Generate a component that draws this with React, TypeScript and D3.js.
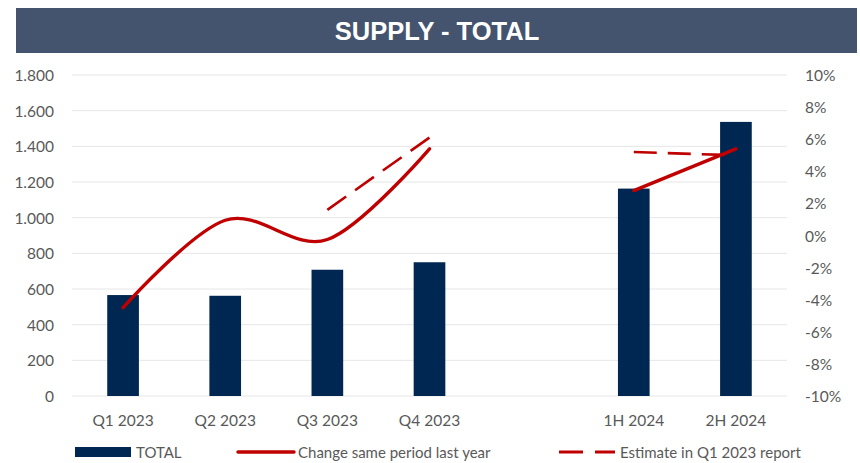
import React from "react";
import * as d3 from "d3";

const categories = ["Q1 2023", "Q2 2023", "Q3 2023", "Q4 2023", "", "1H 2024", "2H 2024"];
const totalValues: (number | null)[] = [566, 562, 708, 750, null, 1163, 1537];
const changeValues: (number | null)[] = [-4.5, 0.95, -0.25, 5.4, null, 2.8, 5.4];
const estimateValues: (number | null)[] = [null, null, 1.6, 6.1, null, 5.2, 5.0];
const leftTicks = [0, 200, 400, 600, 800, 1000, 1200, 1400, 1600, 1800];
const rightTicks = [-10, -8, -6, -4, -2, 0, 2, 4, 6, 8, 10];

const W = 860;
const H = 463;
const plot = { left: 72, right: 787, top: 75, bottom: 396 };
const barColor = "#002652";
const lineColor = "#C00000";
const textColor = "#595959";
const font = "Lato, 'Open Sans', sans-serif";

export default function App() {
  const x = d3
    .scaleBand<string>()
    .domain(categories.map((c, i) => String(i)))
    .range([plot.left, plot.right])
    .paddingInner(0.69)
    .paddingOuter(0.345);
  const xc = (i: number) => (x(String(i)) as number) + x.bandwidth() / 2;
  const yL = d3.scaleLinear().domain([0, 1800]).range([plot.bottom, plot.top]);
  const yR = d3.scaleLinear().domain([-10, 10]).range([plot.bottom, plot.top]);

  const fmtL = (v: number) => d3.format(",")(v).replace(/,/g, ".");

  const solidSegs = [
    [0, 1, 2, 3],
    [5, 6],
  ];
  const dashSegs = [
    [2, 3],
    [5, 6],
  ];
  const smooth = d3
    .line<number>()
    .x((i) => xc(i))
    .y((i) => yR(changeValues[i] as number))
    .curve(d3.curveCardinal.tension(0));
  const straight = d3
    .line<number>()
    .x((i) => xc(i))
    .y((i) => yR(estimateValues[i] as number));

  return (
    <svg width={W} height={H} style={{ position: "absolute", left: 0, top: 0 }}>
      <rect x={0} y={0} width={W} height={H} fill="#fff" />
      <rect x={16} y={8} width={841} height={45} fill="#44546F" />
      <text
        x={437}
        y={31}
        textAnchor="middle"
        dominantBaseline="central"
        fill="#fff"
        fontFamily="'Liberation Sans', Arial, sans-serif"
        fontWeight="bold"
        fontSize={25.5}
      >
        SUPPLY - TOTAL
      </text>

      {leftTicks.map((t) => (
        <line key={t} x1={plot.left} x2={plot.right} y1={yL(t)} y2={yL(t)} stroke="#E6E6E6" strokeWidth={1} />
      ))}
      {leftTicks.map((t) => (
        <text key={t} x={54} y={yL(t)} textAnchor="end" dominantBaseline="central" fill={textColor} fontFamily={font} fontSize={15.5}>
          {fmtL(t)}
        </text>
      ))}
      {rightTicks.map((t) => (
        <text key={t} x={805} y={yR(t)} textAnchor="start" dominantBaseline="central" fill={textColor} fontFamily={font} fontSize={15.5}>
          {t}%
        </text>
      ))}

      {totalValues.map((v, i) =>
        v == null ? null : (
          <rect key={i} x={x(String(i))} y={yL(v)} width={x.bandwidth()} height={yL(0) - yL(v)} fill={barColor} />
        )
      )}
      {categories.map((c, i) => (
        <text key={i} x={xc(i)} y={420} textAnchor="middle" dominantBaseline="central" fill={textColor} fontFamily={font} fontSize={15.5}>
          {c}
        </text>
      ))}

      {dashSegs.map((s, k) => (
        <path key={k} d={straight(s) || ""} fill="none" stroke={lineColor} strokeWidth={2.6} strokeDasharray="23 11" />
      ))}
      {solidSegs.map((s, k) => (
        <path key={k} d={smooth(s) || ""} fill="none" stroke={lineColor} strokeWidth={3.4} strokeLinecap="round" />
      ))}

      <g fontFamily={font} fontSize={15} fill={textColor}>
        <rect x={75} y={447} width={56} height={10} fill={barColor} />
        <text x={136} y={452} dominantBaseline="central">TOTAL</text>
        <line x1={238} x2={294} y1={452} y2={452} stroke={lineColor} strokeWidth={3.4} strokeLinecap="round" />
        <text x={298} y={452} dominantBaseline="central">Change same period last year</text>
        <line x1={559} x2={615} y1={452} y2={452} stroke={lineColor} strokeWidth={2.8} strokeDasharray="24 12" />
        <text x={620} y={452} dominantBaseline="central">Estimate in Q1 2023 report</text>
      </g>
    </svg>
  );
}
